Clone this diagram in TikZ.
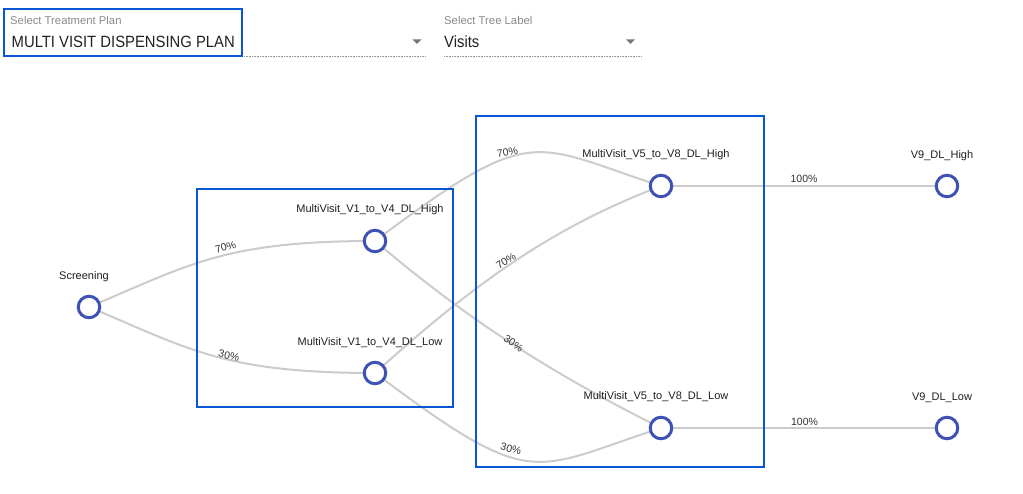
\documentclass[tikz,border=0pt]{standalone}
\usepackage{fontspec}
\setmainfont{Liberation Sans}
\pgfdeclarelayer{background}
\pgfsetlayers{background,main}
\definecolor{nodeblue}{RGB}{63,81,181}
\definecolor{boxblue}{RGB}{8,86,214}
\definecolor{linkgray}{RGB}{204,204,204}
\definecolor{labelgray}{RGB}{138,138,138}
\definecolor{arrowgray}{RGB}{117,117,117}
\definecolor{ulgray}{RGB}{150,150,150}
\tikzset{
  vnode/.style={circle, draw=nodeblue, line width=3pt, fill=white, minimum size=21.5pt, inner sep=0pt},
  nlabel/.style={font=\fontsize{11}{13}\selectfont, text=black!88, anchor=base, inner sep=0pt},
  plabel/.style={font=\fontsize{10.5}{12}\selectfont, text=black!80, inner sep=0pt},
  link/.style={draw=linkgray, line width=2pt},
  selbox/.style={draw=boxblue, line width=2pt},
  smalllbl/.style={font=\fontsize{11.3}{13}\selectfont, text=labelgray, anchor=base west, inner sep=0pt},
  bigtxt/.style={font=\fontsize{16.3}{18}\selectfont, text=black!87, anchor=base west, inner sep=0pt},
  uline/.style={draw=ulgray, line width=1pt, dash pattern=on 1pt off 0.6pt},
  ddarrow/.style={fill=arrowgray, draw=none}
}
\begin{document}
\begin{tikzpicture}[x=1pt, y=-1pt]
\useasboundingbox (0,0) rectangle (1023,494);
\begin{pgfonlayer}{background}
\fill[white] (0,0) rectangle (1023,494);
\end{pgfonlayer}

% ---- top selectors ----
\coordinate (ul1a) at (4,56.5);
\coordinate (ul1b) at (425,56.5);
\coordinate (ul2a) at (444,56.5);
\coordinate (ul2b) at (641.5,56.5);
\draw[uline] (ul1a) -- (ul1b);
\draw[uline] (ul2a) -- (ul2b);
\node[smalllbl] (selplanlbl) at (10,24.7) {Select Treatment Plan};
\node[bigtxt] (selplan) at (11.5,47.7) {\scalebox{0.91}[1]{MULTI VISIT DISPENSING PLAN}};
\node[smalllbl] (seltreelbl) at (444,24.7) {Select Tree Label};
\node[bigtxt] (seltree) at (444,47.7) {\scalebox{0.91}[1]{Visits}};
\fill[ddarrow] (412.5,39.3) -- (421.5,39.3) -- (417,43.8) -- cycle;
\fill[ddarrow] (626,39.3) -- (635,39.3) -- (630.5,43.8) -- cycle;
\draw[selbox] (4,9) rectangle (242.3,55.7);

% ---- tree nodes ----
\node[vnode] (scr) at (89,307) {};
\node[vnode] (v1h) at (375,241) {};
\node[vnode] (v1l) at (375,373) {};
\node[vnode] (v5h) at (661,186) {};
\node[vnode] (v5l) at (661,428) {};
\node[vnode] (v9h) at (947,186) {};
\node[vnode] (v9l) at (947,428) {};

% ---- node labels ----
\node[nlabel] (scrL) at (84,279.3) {Screening};
\node[nlabel] (v1hL) at (370,212.9) {MultiVisit\_V1\_to\_V4\_DL\_High};
\node[nlabel] (v1lL) at (370,345.1) {MultiVisit\_V1\_to\_V4\_DL\_Low};
\node[nlabel] (v5hL) at (656,157.9) {MultiVisit\_V5\_to\_V8\_DL\_High};
\node[nlabel] (v5lL) at (656,399.8) {MultiVisit\_V5\_to\_V8\_DL\_Low};
\node[nlabel] (v9hL) at (942,158.2) {V9\_DL\_High};
\node[nlabel] (v9lL) at (942,400.3) {V9\_DL\_Low};

% ---- links ----
\begin{pgfonlayer}{background}
\draw[link] (scr.center) .. controls (189,265) and (224,241) .. (v1h.center);
\draw[link] (scr.center) .. controls (189,349) and (224,373) .. (v1l.center);
\draw[link] (v1h.center) .. controls (535,121) and (531,144) .. (v5h.center);
\draw[link] (v1l.center) .. controls (535,493) and (531,470) .. (v5l.center);
\draw[link] (v1h.center) .. controls (475,326) and (561,378) .. (v5l.center);
\draw[link] (v1l.center) .. controls (475,283) and (551,228) .. (v5h.center);
\draw[link] (v5h.center) -- (v9h.center);
\draw[link] (v5l.center) -- (v9l.center);
\end{pgfonlayer}

% ---- link labels ----
\node[plabel, rotate=15] (p1) at (225.5,247) {70\%};
\node[plabel, rotate=-12] (p2) at (229,355.5) {30\%};
\node[plabel, rotate=9] (p3) at (507.5,152.5) {70\%};
\node[plabel, rotate=32] (p4) at (506,261) {70\%};
\node[plabel, rotate=-34] (p5) at (513.5,343.5) {30\%};
\node[plabel, rotate=-15] (p6) at (511,449) {30\%};
\node[plabel, anchor=base] (p7) at (804,183) {100\%};
\node[plabel, anchor=base] (p8) at (804.5,425.8) {100\%};

% ---- highlight boxes ----
\draw[selbox] (196.7,189.3) rectangle (453.3,407.3);
\draw[selbox] (475.7,115.7) rectangle (764.3,466.7);
\end{tikzpicture}
\end{document}
